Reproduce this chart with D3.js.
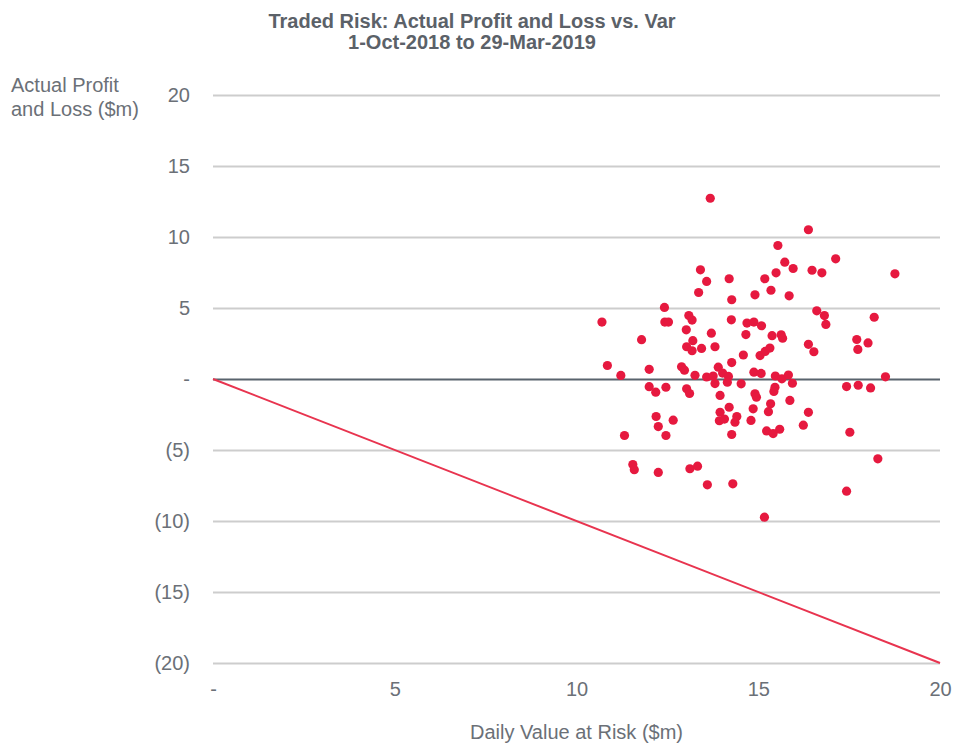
<!DOCTYPE html>
<html>
<head>
<meta charset="utf-8">
<script src="https://cdn.jsdelivr.net/npm/d3@7/dist/d3.min.js"></script>
<style>
  body { margin: 0; background: #ffffff; }
</style>
</head>
<body>
<div id="viz"></div>
<script>
/*
 */
var varDiario = [13.68,16.38,15.54,17.13,18.76,13.41,13.58,14.20,13.36,14.27,
  15.73,15.96,15.49,16.48,16.75,15.18,15.35,14.91,15.85,12.42,
  10.70,12.43,12.53,13.09,13.18,14.26,14.69,14.88,15.09,16.61,
  16.82,16.86,18.19,13.02,13.71,14.66,15.38,15.63,15.67,11.79,
  13.20,13.03,13.18,13.44,13.81,14.59,15.05,15.19,15.32,16.38,
  16.53,17.71,18.02,17.74,10.85,11.22,12.00,12.89,12.97,13.26,
  14.27,13.58,13.76,13.90,14.02,14.18,14.15,13.81,14.53,14.88,
  15.08,15.47,15.65,15.83,15.94,12.00,12.18,12.46,13.03,13.11,
  13.95,15.46,15.43,14.91,14.95,15.87,15.34,15.28,14.86,16.38,
  14.20,13.95,13.93,14.07,14.41,14.36,14.80,16.24,15.23,15.41,
  15.59,14.27,12.19,12.25,12.66,12.46,11.32,17.43,17.75,18.09,
  18.50,17.52,18.29,17.43,15.17,11.55,11.59,12.25,13.12,13.33,
  13.60,14.30];

var resultado = [12.73,10.51,9.40,8.46,7.41,7.69,6.87,7.06,6.09,5.58,
  8.23,7.78,7.48,7.66,7.48,7.06,6.25,5.93,5.86,5.04,
  4.01,4.01,4.01,4.47,4.15,4.17,3.94,4.01,3.75,4.80,
  4.47,3.84,4.35,3.46,3.23,3.13,3.05,3.11,2.87,2.77,
  2.70,2.27,1.99,2.15,2.27,1.69,1.65,1.94,2.18,2.44,
  1.92,2.78,2.54,2.08,0.95,0.25,0.68,0.86,0.62,0.26,
  1.16,0.14,0.21,0.83,0.42,0.18,-0.23,-0.32,-0.34,0.48,
  0.39,0.21,0.01,0.28,-0.30,-0.54,-0.93,-0.58,-0.69,-1.02,
  -1.16,-0.58,-0.88,-1.04,-1.28,-1.51,-1.75,-2.30,-2.10,-2.35,
  -1.99,-2.34,-2.94,-2.82,-2.64,-3.04,-2.92,-3.25,-3.66,-3.84,
  -3.54,-3.91,-2.64,-3.35,-2.90,-3.98,-3.98,-0.53,-0.44,-0.63,
  0.15,-3.75,-5.62,-7.90,-9.73,-6.02,-6.39,-6.58,-6.32,-6.14,
  -7.45,-7.38];

//Linea limite (perdida = VaR)
var limiteX = [0, 20];
var limiteY = [0, -20];

//Ticks y etiquetas
var ticksX = [0, 5, 10, 15, 20];
var etiquetasX = ['-', '5', '10', '15', '20'];
var ticksY = [20, 15, 10, 5, 0, -5, -10, -15, -20];
var etiquetasY = ['20', '15', '10', '5', '-', '(5)', '(10)', '(15)', '(20)'];

var titulo = ['Traded Risk: Actual Profit and Loss vs. Var', '1-Oct-2018 to 29-Mar-2019'];
var tituloY = ['Actual Profit', 'and Loss ($m)'];
var tituloX = 'Daily Value at Risk ($m)';

//Creo una clase singleton/objeto
var Grafico = new function(){
  /*
   * Variables de configuracion
   */
  this.width = 957;
  this.height = 744;
  this.margen = {top: 95, right: 17, bottom: 81, left: 213};
  this.fuente = '"Liberation Sans", Arial, sans-serif';
  this.rojo = '#e6193f';

  var ancho = this.width - this.margen.left - this.margen.right,
      alto = this.height - this.margen.top - this.margen.bottom;

  this.svg = d3.select('#viz')
    .append('svg')
    .attr('width', this.width)
    .attr('height', this.height)
    .style('background', '#ffffff')
    .style('font-family', this.fuente);

  this.g = this.svg.append('g')
    .attr('transform', 'translate(' + this.margen.left + ',' + this.margen.top + ')');

  this.x = d3.scaleLinear().domain([0, 20]).range([0, ancho]);
  this.y = d3.scaleLinear().domain([-20, 20]).range([alto, 0]);

  /*
   * Ejes y grilla
   */
  this.renderEjes = function(){
    var ejeY = d3.axisLeft(Grafico.y)
      .tickValues(ticksY)
      .tickFormat(function(d, i){ return etiquetasY[i]; })
      .tickSize(-ancho)
      .tickPadding(23);

    var gY = Grafico.g.append('g').call(ejeY);
    gY.select('.domain').remove();
    gY.attr('font-size', 20).attr('font-family', Grafico.fuente);
    gY.selectAll('.tick line')
      .attr('stroke', function(d){ return d === 0 ? '#59636d' : '#cdcdcd'; })
      .attr('stroke-width', 2);
    gY.selectAll('.tick text').attr('fill', '#6b7077');

    var ejeX = d3.axisBottom(Grafico.x)
      .tickValues(ticksX)
      .tickFormat(function(d, i){ return etiquetasX[i]; })
      .tickSize(0)
      .tickPadding(19);

    var gX = Grafico.g.append('g')
      .attr('transform', 'translate(0,' + alto + ')')
      .call(ejeX);
    gX.select('.domain').remove();
    gX.attr('font-size', 20).attr('font-family', Grafico.fuente);
    gX.selectAll('.tick text').attr('fill', '#6b7077');
  } //Fin renderEjes

  /*
   * Linea diagonal y puntos
   */
  this.renderDatos = function(){
    var linea = d3.line()
      .x(function(d){ return Grafico.x(d[0]); })
      .y(function(d){ return Grafico.y(d[1]); });

    Grafico.g.append('path')
      .datum(d3.zip(limiteX, limiteY))
      .attr('d', linea)
      .attr('fill', 'none')
      .attr('stroke', '#e8344f')
      .attr('stroke-width', 2);

    Grafico.g.append('g')
      .selectAll('circle')
      .data(d3.zip(varDiario, resultado))
      .enter().append('circle')
      .attr('cx', function(d){ return Grafico.x(d[0]); })
      .attr('cy', function(d){ return Grafico.y(d[1]); })
      .attr('r', 4.6)
      .style('fill', Grafico.rojo);
  } //Fin renderDatos

  /*
   * Titulos
   */
  this.renderTitulos = function(){
    Grafico.svg.append('text')
      .attr('x', 472)
      .attr('y', 28)
      .attr('text-anchor', 'middle')
      .attr('font-size', 20)
      .attr('font-weight', 'bold')
      .attr('fill', '#5b6168')
      .text(titulo[0]);

    Grafico.svg.append('text')
      .attr('x', 472)
      .attr('y', 49)
      .attr('text-anchor', 'middle')
      .attr('font-size', 20)
      .attr('font-weight', 'bold')
      .attr('fill', '#5b6168')
      .text(titulo[1]);

    for (var i = 0; i < tituloY.length; i++) {
      Grafico.svg.append('text')
        .attr('x', 11)
        .attr('y', 92 + i * 24)
        .attr('font-size', 20)
        .attr('fill', '#6b7077')
        .text(tituloY[i]);
    };

    Grafico.svg.append('text')
      .attr('x', Grafico.margen.left + ancho / 2)
      .attr('y', 739)
      .attr('text-anchor', 'middle')
      .attr('font-size', 20)
      .attr('fill', '#6b7077')
      .text(tituloX);
  } //Fin renderTitulos

}

Grafico.renderEjes();
Grafico.renderDatos();
Grafico.renderTitulos();
</script>
</body>
</html>
